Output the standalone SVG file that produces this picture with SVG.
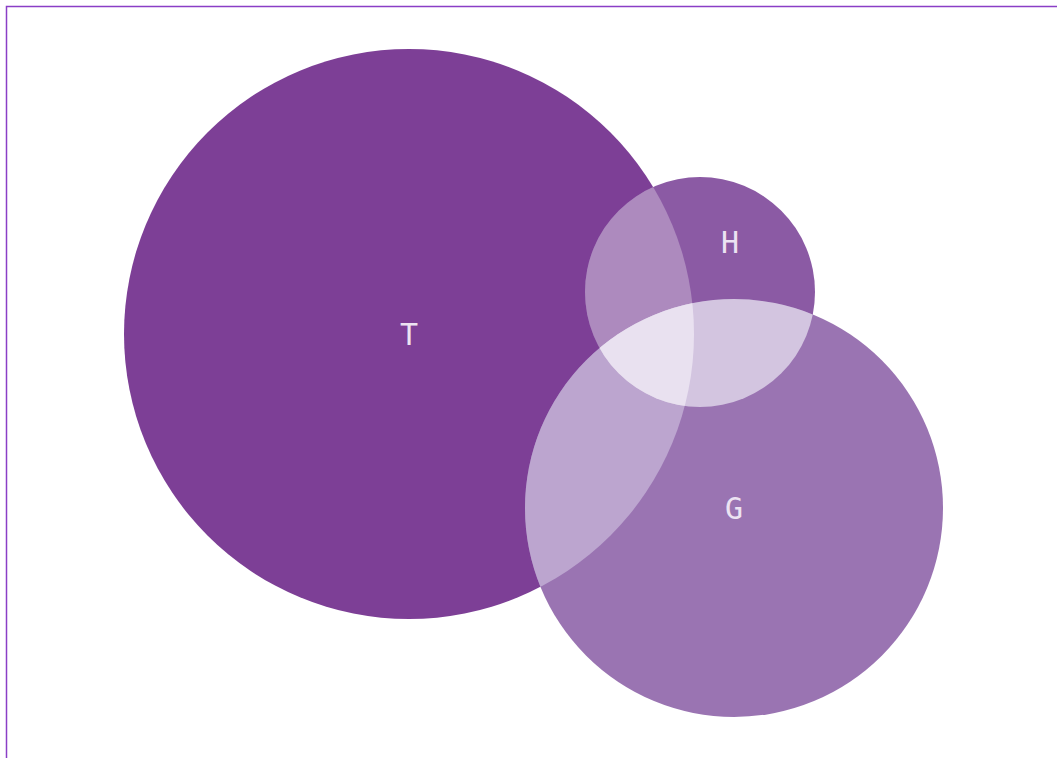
<svg xmlns="http://www.w3.org/2000/svg" width="1057" height="758" viewBox="0 0 1057 758">
<style>
.lbl{font-family:"DejaVu Sans Mono",monospace;font-size:30px;fill:#ece3f2;text-anchor:middle;dominant-baseline:central}
</style>
<defs>
<clipPath id="cT"><circle cx="409" cy="334" r="285"/></clipPath>
<clipPath id="cH"><circle cx="700" cy="292" r="115"/></clipPath>
<clipPath id="cG"><circle cx="734" cy="508" r="209"/></clipPath>
</defs>
<rect width="1057" height="758" fill="#ffffff"/>
<rect x="6.5" y="6.5" width="1100" height="800" fill="none" stroke="#8a3fc6" stroke-width="1.5"/>
<g id="T"><circle cx="409" cy="334" r="285" fill="#7d3f96"/></g>
<g id="H"><circle cx="700" cy="292" r="115" fill="#8b5aa4"/></g>
<g id="G"><circle cx="734" cy="508" r="209" fill="#9a74b2"/></g>
<g id="TH" clip-path="url(#cT)"><circle cx="700" cy="292" r="115" fill="#ad8abe"/></g>
<g id="TG" clip-path="url(#cT)"><circle cx="734" cy="508" r="209" fill="#bca5cf"/></g>
<g id="HG" clip-path="url(#cH)"><circle cx="734" cy="508" r="209" fill="#d3c5e0"/></g>
<g id="THG" clip-path="url(#cT)"><g clip-path="url(#cH)"><circle cx="734" cy="508" r="209" fill="#e9e1f0"/></g></g>
<g id="labels">
<text class="lbl" x="409" y="334">T</text>
<text class="lbl" x="730" y="242">H</text>
<text class="lbl" x="734" y="508">G</text>
</g>
</svg>
